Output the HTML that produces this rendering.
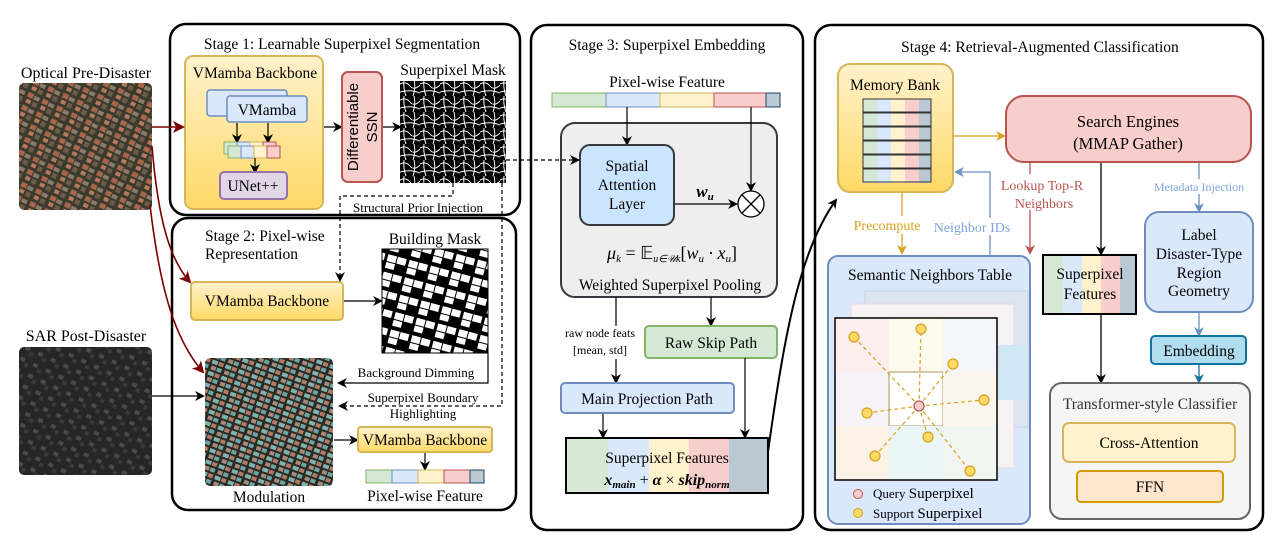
<!DOCTYPE html>
<html><head><meta charset="utf-8"><style>
html,body{margin:0;padding:0;background:#fff;}
svg{display:block;font-family:"Liberation Serif",serif;}
</style></head><body>
<svg width="1275" height="549" viewBox="0 0 1275 549" xmlns="http://www.w3.org/2000/svg">
<defs>
<marker id="ak" markerWidth="10" markerHeight="10" refX="8" refY="5" orient="auto" markerUnits="userSpaceOnUse"><path d="M0,0 L10,5 L0,10 L3,5 z" fill="#000"/></marker>
<marker id="ar" markerWidth="12" markerHeight="12" refX="10" refY="6" orient="auto" markerUnits="userSpaceOnUse"><path d="M0,0 L12,6 L0,12 L3,6 z" fill="#7a0000"/></marker>
<marker id="ay" markerWidth="10" markerHeight="10" refX="8" refY="5" orient="auto" markerUnits="userSpaceOnUse"><path d="M0,0 L10,5 L0,10 L3,5 z" fill="#d6a21f"/></marker>
<marker id="ab" markerWidth="10" markerHeight="10" refX="8" refY="5" orient="auto" markerUnits="userSpaceOnUse"><path d="M0,0 L10,5 L0,10 L3,5 z" fill="#6c8ebf"/></marker>
<marker id="ard" markerWidth="10" markerHeight="10" refX="8" refY="5" orient="auto" markerUnits="userSpaceOnUse"><path d="M0,0 L10,5 L0,10 L3,5 z" fill="#b85450"/></marker>
<marker id="at" markerWidth="10" markerHeight="10" refX="8" refY="5" orient="auto" markerUnits="userSpaceOnUse"><path d="M0,0 L10,5 L0,10 L3,5 z" fill="#10739e"/></marker>
<linearGradient id="gy" x1="0" y1="0" x2="0" y2="1"><stop offset="0" stop-color="#fff2cc"/><stop offset="1" stop-color="#ffd966"/></linearGradient>
<pattern id="opt" width="16" height="14" patternUnits="userSpaceOnUse" patternTransform="rotate(25)">
<rect width="16" height="14" fill="#3a3b2c"/><rect x="1" y="1" width="6" height="5" fill="#a8654a"/><rect x="8" y="2" width="6" height="4" fill="#8c7a6a"/><rect x="2" y="8" width="5" height="4" fill="#b87a5e"/><rect x="9" y="8" width="5" height="5" fill="#6e5a48"/></pattern>
<pattern id="sar" width="14" height="12" patternUnits="userSpaceOnUse" patternTransform="rotate(25)">
<rect width="14" height="12" fill="#262626"/><rect x="2" y="2" width="5" height="4" fill="#4a4a4a"/><rect x="8" y="6" width="4" height="4" fill="#3a3a3a"/></pattern>
<pattern id="mod" width="14" height="12" patternUnits="userSpaceOnUse" patternTransform="rotate(20)">
<rect width="14" height="12" fill="#2a2a22"/><rect x="1" y="1" width="6" height="4" fill="#7fb3b0"/><rect x="8" y="1" width="5" height="4" fill="#b07a66"/><rect x="2" y="7" width="5" height="4" fill="#a68a7a"/><rect x="8" y="7" width="5" height="4" fill="#6aa6a6"/></pattern>
<pattern id="bm" width="22" height="18" patternUnits="userSpaceOnUse" patternTransform="rotate(15)">
<rect width="22" height="18" fill="#000"/><rect x="1" y="1" width="9" height="7" fill="#fff"/><rect x="11" y="1" width="9" height="7" fill="#fff"/><rect x="1" y="9" width="9" height="6" fill="#fff"/></pattern>
<pattern id="spm" width="20" height="16" patternUnits="userSpaceOnUse">
<rect width="20" height="16" fill="#000"/><path d="M0,4 Q6,1 10,6 T20,5 M4,0 Q3,8 6,16 M14,0 Q16,8 13,16 M0,12 Q10,9 20,13" stroke="#fff" stroke-width="1" fill="none"/></pattern>
</defs>

<!-- inputs -->
<text x="86" y="78" font-size="16" text-anchor="middle">Optical Pre-Disaster</text>
<rect x="19" y="83" width="133" height="127" rx="5" fill="url(#opt)"/>
<text x="86" y="341" font-size="16" text-anchor="middle">SAR Post-Disaster</text>
<rect x="19" y="347" width="133" height="128" rx="5" fill="url(#sar)"/>

<!-- Stage boxes -->
<rect x="170" y="24" width="350" height="191" rx="16" fill="none" stroke="#000" stroke-width="2.5"/>
<rect x="172" y="218" width="344" height="292" rx="16" fill="none" stroke="#000" stroke-width="2.5"/>
<rect x="531" y="25" width="272" height="505" rx="16" fill="none" stroke="#000" stroke-width="2.5"/>
<rect x="815" y="25" width="448" height="505" rx="16" fill="none" stroke="#000" stroke-width="2.5"/>

<!-- Stage 1 -->
<text x="342" y="49" font-size="15.5" text-anchor="middle">Stage 1: Learnable Superpixel Segmentation</text>
<rect x="185" y="56" width="138" height="153" rx="8" fill="url(#gy)" stroke="#d6b656" stroke-width="2"/>
<text x="255" y="78" font-size="15.5" text-anchor="middle">VMamba Backbone</text>
<rect x="207" y="90" width="80" height="26" rx="3" fill="#dae8fc" stroke="#6c8ebf" stroke-width="1.5"/>
<rect x="227" y="96" width="80" height="26" rx="3" fill="#dae8fc" stroke="#6c8ebf" stroke-width="1.5"/>
<text x="267" y="115" font-size="15.5" text-anchor="middle">VMamba</text>
<line x1="237" y1="123" x2="237" y2="142" stroke="#000" stroke-width="1.2" marker-end="url(#ak)"/>
<line x1="268" y1="123" x2="268" y2="142" stroke="#000" stroke-width="1.2" marker-end="url(#ak)"/>
<g stroke-width="1">
<rect x="224" y="142" width="13" height="12" fill="#d5e8d4" stroke="#82b366"/><rect x="237" y="142" width="13" height="12" fill="#dae8fc" stroke="#6c8ebf"/><rect x="250" y="142" width="13" height="12" fill="#fff2cc" stroke="#d6b656"/><rect x="263" y="142" width="13" height="12" fill="#f8cecc" stroke="#b85450"/>
<rect x="228" y="146" width="13" height="12" fill="#d5e8d4" stroke="#82b366"/><rect x="241" y="146" width="13" height="12" fill="#dae8fc" stroke="#6c8ebf"/><rect x="254" y="146" width="13" height="12" fill="#fff2cc" stroke="#d6b656"/><rect x="267" y="146" width="13" height="12" fill="#f8cecc" stroke="#b85450"/>
</g>
<line x1="255" y1="158" x2="255" y2="172" stroke="#000" stroke-width="1.2" marker-end="url(#ak)"/>
<rect x="220" y="172" width="67" height="27" rx="4" fill="#e1d5e7" stroke="#9673a6" stroke-width="2"/>
<text x="253" y="191" font-size="15.5" text-anchor="middle">UNet++</text>
<line x1="324" y1="127" x2="341" y2="127" stroke="#000" stroke-width="1.3" marker-end="url(#ak)"/>
<rect x="342" y="72" width="40" height="110" rx="6" fill="#f8cecc" stroke="#b85450" stroke-width="2"/>
<text transform="translate(358,127) rotate(-90)" font-family="Liberation Sans,sans-serif" font-size="15" text-anchor="middle">Differentiable</text>
<text transform="translate(377,127) rotate(-90)" font-family="Liberation Sans,sans-serif" font-size="15" text-anchor="middle">SSN</text>
<line x1="383" y1="127" x2="400" y2="127" stroke="#000" stroke-width="1.3" marker-end="url(#ak)"/>
<text x="453" y="75" font-size="15.5" text-anchor="middle">Superpixel Mask</text>
<rect x="400" y="81" width="106" height="102" fill="url(#spm)"/>

<!-- Stage 2 -->
<text x="205" y="241" font-size="15.5">Stage 2: Pixel-wise</text>
<text x="205" y="259" font-size="15.5">Representation</text>
<rect x="191" y="282" width="152" height="38" rx="4" fill="url(#gy)" stroke="#d6b656" stroke-width="2"/>
<text x="267" y="306" font-size="15.5" text-anchor="middle">VMamba Backbone</text>
<line x1="344" y1="301" x2="381" y2="301" stroke="#000" stroke-width="1.2" marker-end="url(#ak)"/>
<text x="435" y="244" font-size="15.5" text-anchor="middle">Building Mask</text>
<rect x="382" y="249" width="106" height="104" fill="url(#bm)" stroke="#000"/>
<rect x="205" y="358" width="128" height="128" rx="5" fill="url(#mod)"/>
<text x="269" y="502" font-size="15.5" text-anchor="middle">Modulation</text>
<path d="M488,353 V383 H339" fill="none" stroke="#000" stroke-width="1.2" marker-end="url(#ak)"/>
<text x="416" y="377" font-size="13" text-anchor="middle">Background Dimming</text>
<path d="M453,183 V196 H340 V280" fill="none" stroke="#000" stroke-width="1.2" stroke-dasharray="4,3" marker-end="url(#ak)"/>
<text x="418" y="212" font-size="13" text-anchor="middle">Structural Prior Injection</text>
<path d="M502,183 V406 H340" fill="none" stroke="#000" stroke-width="1.2" stroke-dasharray="4,3" marker-end="url(#ak)"/>
<text x="423" y="402" font-size="13" text-anchor="middle">Superpixel Boundary</text>
<text x="423" y="418" font-size="13" text-anchor="middle">Highlighting</text>
<line x1="334" y1="440" x2="357" y2="440" stroke="#000" stroke-width="1.2" marker-end="url(#ak)"/>
<rect x="358" y="427" width="134" height="25" rx="3" fill="url(#gy)" stroke="#d6b656" stroke-width="2"/>
<text x="425" y="445" font-size="15.5" text-anchor="middle">VMamba Backbone</text>
<line x1="425" y1="453" x2="425" y2="469" stroke="#000" stroke-width="1.2" marker-end="url(#ak)"/>
<g stroke-width="1">
<rect x="366" y="470" width="26" height="13" fill="#d5e8d4" stroke="#82b366"/><rect x="392" y="470" width="26" height="13" fill="#dae8fc" stroke="#6c8ebf"/><rect x="418" y="470" width="26" height="13" fill="#fff2cc" stroke="#d6b656"/><rect x="444" y="470" width="26" height="13" fill="#f8cecc" stroke="#b85450"/><rect x="470" y="470" width="14" height="13" fill="#bac8d3" stroke="#23445d"/>
</g>
<text x="425" y="501" font-size="15.5" text-anchor="middle">Pixel-wise Feature</text>

<!-- red input arrows -->
<line x1="152" y1="127" x2="183" y2="127" stroke="#7a0000" stroke-width="1.6" marker-end="url(#ar)"/>
<path d="M152,146 C158,220 170,260 190,282" fill="none" stroke="#7a0000" stroke-width="1.6" marker-end="url(#ar)"/>
<path d="M150,205 C160,290 175,340 203,372" fill="none" stroke="#7a0000" stroke-width="1.6" marker-end="url(#ar)"/>
<line x1="152" y1="396" x2="203" y2="396" stroke="#000" stroke-width="1.3" marker-end="url(#ak)"/>

<!-- Stage 3 -->
<text x="667" y="50" font-size="15.5" text-anchor="middle">Stage 3: Superpixel Embedding</text>
<text x="667" y="87" font-size="15.5" text-anchor="middle">Pixel-wise Feature</text>
<g stroke-width="1">
<rect x="552" y="93" width="54" height="14" fill="#d5e8d4" stroke="#82b366"/><rect x="606" y="93" width="54" height="14" fill="#dae8fc" stroke="#6c8ebf"/><rect x="660" y="93" width="54" height="14" fill="#fff2cc" stroke="#d6b656"/><rect x="714" y="93" width="52" height="14" fill="#f8cecc" stroke="#b85450"/><rect x="766" y="93" width="14" height="14" fill="#bac8d3" stroke="#23445d"/>
</g>
<rect x="561" y="123" width="216" height="174" rx="14" fill="#eeeeee" stroke="#36393d" stroke-width="2"/>
<line x1="627" y1="107" x2="627" y2="144" stroke="#000" stroke-width="1.2" marker-end="url(#ak)"/>
<line x1="751" y1="107" x2="751" y2="190" stroke="#000" stroke-width="1.2" marker-end="url(#ak)"/>
<rect x="580" y="145" width="94" height="80" rx="10" fill="#cce5ff" stroke="#36393d" stroke-width="2"/>
<text x="627" y="171" font-size="15.5" text-anchor="middle">Spatial</text>
<text x="627" y="190" font-size="15.5" text-anchor="middle">Attention</text>
<text x="627" y="209" font-size="15.5" text-anchor="middle">Layer</text>
<line x1="675" y1="204" x2="736" y2="204" stroke="#000" stroke-width="1.2" marker-end="url(#ak)"/>
<text x="705" y="197" font-size="17" font-style="italic" font-weight="bold" text-anchor="middle">w<tspan font-size="11" dy="3">u</tspan></text>
<circle cx="751" cy="204" r="13" fill="#fff" stroke="#000" stroke-width="1.3"/>
<path d="M742,195 L760,213 M760,195 L742,213" stroke="#000" stroke-width="1.3"/>
<text x="672" y="259" font-size="18" font-style="italic" text-anchor="middle">μ<tspan font-size="11" dy="3">k</tspan><tspan dy="-3" font-style="normal"> = 𝔼</tspan><tspan font-size="10" dy="3">u∈𝒰k</tspan><tspan dy="-3" font-style="normal">[</tspan>w<tspan font-size="11" dy="3">u</tspan><tspan dy="-3"> · x</tspan><tspan font-size="11" dy="3">u</tspan><tspan dy="-3" font-style="normal">]</tspan></text>
<text x="670" y="290" font-size="15.5" text-anchor="middle">Weighted Superpixel Pooling</text>
<line x1="616" y1="297" x2="616" y2="326" stroke="#000" stroke-width="1.2"/>
<text x="600" y="337" font-size="12" text-anchor="middle">raw node feats</text>
<text x="600" y="354" font-size="12" text-anchor="middle">[mean, std]</text>
<line x1="616" y1="359" x2="616" y2="382" stroke="#000" stroke-width="1.2" marker-end="url(#ak)"/>
<line x1="711" y1="297" x2="711" y2="325" stroke="#000" stroke-width="1.2" marker-end="url(#ak)"/>
<rect x="645" y="326" width="132" height="32" rx="4" fill="#d5e8d4" stroke="#82b366" stroke-width="2"/>
<text x="711" y="348" font-size="15.5" text-anchor="middle">Raw Skip Path</text>
<rect x="561" y="383" width="173" height="30" rx="4" fill="#dae8fc" stroke="#6c8ebf" stroke-width="2"/>
<text x="647" y="404" font-size="15.5" text-anchor="middle">Main Projection Path</text>
<line x1="603" y1="414" x2="603" y2="437" stroke="#000" stroke-width="1.2" marker-end="url(#ak)"/>
<line x1="745" y1="358" x2="745" y2="437" stroke="#000" stroke-width="1.2" marker-end="url(#ak)"/>
<rect x="567" y="439" width="41" height="53" fill="#d5e8d4"/><rect x="608" y="439" width="41" height="53" fill="#dae8fc"/><rect x="649" y="439" width="40" height="53" fill="#fff2cc"/><rect x="689" y="439" width="40" height="53" fill="#f8cecc"/><rect x="729" y="439" width="39" height="53" fill="#bac8d3"/>
<rect x="566" y="438" width="202" height="55" fill="none" stroke="#000" stroke-width="2"/>
<text x="667" y="463" font-size="15.5" text-anchor="middle">Superpixel Features</text>
<text x="667" y="485" font-size="16" font-style="italic" font-weight="bold" text-anchor="middle">x<tspan font-size="11" dy="3">main</tspan><tspan dy="-3" font-weight="normal" font-style="normal"> + </tspan>α<tspan font-weight="normal" font-style="normal"> × </tspan>skip<tspan font-size="11" dy="3">norm</tspan></text>
<path d="M768,452 C785,330 800,250 836,200" fill="none" stroke="#000" stroke-width="2" marker-end="url(#ak)"/>
<path d="M506,160 H578" fill="none" stroke="#000" stroke-width="1.3" stroke-dasharray="4,3" marker-end="url(#ak)"/>

<!-- Stage 4 -->
<text x="1040" y="52" font-size="15.5" text-anchor="middle">Stage 4: Retrieval-Augmented Classification</text>
<rect x="838" y="64" width="115" height="128" rx="12" fill="url(#gy)" stroke="#d6b656" stroke-width="2"/>
<text x="895" y="90" font-size="15.5" text-anchor="middle">Memory Bank</text>
<g>
<rect x="863" y="99" width="14" height="84" fill="#d5e8d4"/><rect x="877" y="99" width="14" height="84" fill="#dae8fc"/><rect x="891" y="99" width="14" height="84" fill="#fff2cc"/><rect x="905" y="99" width="14" height="84" fill="#f8cecc"/><rect x="919" y="99" width="12" height="84" fill="#bac8d3"/>
<g fill="none" stroke="#333" stroke-width="1"><rect x="863" y="99" width="68" height="13"/><rect x="863" y="113" width="68" height="13"/><rect x="863" y="127" width="68" height="13"/><rect x="863" y="141" width="68" height="13"/><rect x="863" y="155" width="68" height="13"/><rect x="863" y="169" width="68" height="13"/></g>
</g>
<line x1="954" y1="136" x2="1004" y2="136" stroke="#d6a21f" stroke-width="1.3" marker-end="url(#ay)"/>
<rect x="1006" y="96" width="245" height="66" rx="18" fill="#f8cecc" stroke="#b85450" stroke-width="2"/>
<text x="1128" y="127" font-size="16.5" text-anchor="middle">Search Engines</text>
<text x="1128" y="149" font-size="16.5" text-anchor="middle">(MMAP Gather)</text>
<line x1="902" y1="193" x2="902" y2="253" stroke="#d6a21f" stroke-width="1.3" marker-end="url(#ay)"/>
<rect x="846" y="216" width="80" height="18" fill="#fff"/>
<text x="887" y="230" font-size="14" fill="#d6a21f" text-anchor="middle">Precompute</text>
<path d="M990,255 V172 H956" fill="none" stroke="#6c8ebf" stroke-width="1.3" marker-end="url(#ab)"/>
<rect x="930" y="218" width="82" height="17" fill="#fff"/>
<text x="972" y="232" font-size="14" fill="#7ea6e0" text-anchor="middle">Neighbor IDs</text>
<line x1="1030" y1="163" x2="1030" y2="253" stroke="#b85450" stroke-width="1.3" marker-end="url(#ard)"/>
<rect x="998" y="174" width="88" height="36" fill="#fff"/>
<text x="1042" y="190" font-size="14" fill="#b85450" text-anchor="middle">Lookup Top-R</text>
<text x="1044" y="208" font-size="14" fill="#b85450" text-anchor="middle">Neighbors</text>
<line x1="1101" y1="163" x2="1101" y2="254" stroke="#000" stroke-width="1.3" marker-end="url(#ak)"/>
<line x1="1199" y1="163" x2="1199" y2="211" stroke="#6c8ebf" stroke-width="1.3" marker-end="url(#ab)"/>
<rect x="1154" y="179" width="98" height="15" fill="#fff"/>
<text x="1199" y="191" font-size="12" fill="#7ea6e0" text-anchor="middle">Metadata Injection</text>

<rect x="828" y="256" width="202" height="268" rx="10" fill="#dae8fc" stroke="#6c8ebf" stroke-width="2"/>
<text x="930" y="280" font-size="15.5" text-anchor="middle">Semantic Neighbors Table</text>
<rect x="865" y="291" width="163" height="136" fill="#dde4f2" stroke="#c8d0e8"/>
<rect x="851" y="304" width="163" height="164" fill="#f6f2f4" stroke="#e8d8dc"/>
<rect x="998" y="345" width="30" height="55" fill="#cfe6f4"/>
<rect x="835" y="318" width="162" height="162" fill="#fff"/>
<rect x="835" y="318" width="54" height="54" fill="#fdeeee"/><rect x="889" y="318" width="54" height="54" fill="#fffaee"/><rect x="943" y="318" width="54" height="54" fill="#f4f6fc"/>
<rect x="835" y="372" width="54" height="54" fill="#f6f2f8"/><rect x="889" y="372" width="54" height="54" fill="#fff" stroke="#a89a5a"/><rect x="943" y="372" width="54" height="54" fill="#fdf6ee"/>
<rect x="835" y="426" width="54" height="54" fill="#fdf2e6"/><rect x="889" y="426" width="54" height="54" fill="#eaf6f6"/><rect x="943" y="426" width="54" height="54" fill="#f2f6f2"/>
<rect x="835" y="318" width="162" height="162" fill="none" stroke="#000" stroke-width="1.5"/>
<g stroke="#d6a21f" stroke-width="1.2" stroke-dasharray="4,3" fill="none">
<line x1="919" y1="406" x2="854" y2="337"/><line x1="919" y1="406" x2="921" y2="329"/><line x1="919" y1="406" x2="953" y2="364"/><line x1="919" y1="406" x2="984" y2="400"/><line x1="919" y1="406" x2="867" y2="413"/><line x1="919" y1="406" x2="928" y2="437"/><line x1="919" y1="406" x2="875" y2="456"/><line x1="919" y1="406" x2="970" y2="471"/>
</g>
<g fill="#ffd966" stroke="#d6a21f" stroke-width="1.2">
<circle cx="854" cy="337" r="5"/><circle cx="921" cy="329" r="5"/><circle cx="953" cy="364" r="5"/><circle cx="984" cy="400" r="5"/><circle cx="867" cy="413" r="5"/><circle cx="928" cy="437" r="5"/><circle cx="875" cy="456" r="5"/><circle cx="970" cy="471" r="5"/>
</g>
<circle cx="919" cy="406" r="5" fill="#f8cecc" stroke="#b85450" stroke-width="1.3"/>
<circle cx="858" cy="494" r="4.5" fill="#f8cecc" stroke="#b85450"/>
<text x="873" y="498" font-size="13">Query <tspan font-size="15">Superpixel</tspan></text>
<circle cx="858" cy="513" r="4.5" fill="#ffd966" stroke="#d6a21f"/>
<text x="873" y="518" font-size="13">Support <tspan font-size="15">Superpixel</tspan></text>

<rect x="1044" y="256" width="19" height="58" fill="#d5e8d4"/><rect x="1063" y="256" width="19" height="58" fill="#dae8fc"/><rect x="1082" y="256" width="19" height="58" fill="#fff2cc"/><rect x="1101" y="256" width="19" height="58" fill="#f8cecc"/><rect x="1120" y="256" width="16" height="58" fill="#bac8d3"/>
<rect x="1043" y="255" width="93" height="59" fill="none" stroke="#000" stroke-width="2"/>
<text x="1090" y="279" font-size="15.5" text-anchor="middle">Superpixel</text>
<text x="1090" y="299" font-size="15.5" text-anchor="middle">Features</text>
<line x1="1101" y1="315" x2="1101" y2="382" stroke="#000" stroke-width="1.3" marker-end="url(#ak)"/>

<rect x="1145" y="212" width="108" height="100" rx="14" fill="#dae8fc" stroke="#6c8ebf" stroke-width="2"/>
<text x="1199" y="240" font-size="15.5" text-anchor="middle">Label</text>
<text x="1199" y="259" font-size="15.5" text-anchor="middle">Disaster-Type</text>
<text x="1199" y="278" font-size="15.5" text-anchor="middle">Region</text>
<text x="1199" y="296" font-size="15.5" text-anchor="middle">Geometry</text>
<line x1="1199" y1="313" x2="1199" y2="335" stroke="#6c8ebf" stroke-width="1.3" marker-end="url(#ab)"/>
<rect x="1151" y="336" width="95" height="28" rx="4" fill="#b1ddf0" stroke="#10739e" stroke-width="2"/>
<text x="1199" y="356" font-size="15.5" text-anchor="middle">Embedding</text>
<line x1="1199" y1="365" x2="1199" y2="382" stroke="#10739e" stroke-width="1.3" marker-end="url(#at)"/>
<rect x="1050" y="383" width="200" height="136" rx="12" fill="#f5f5f5" stroke="#666" stroke-width="2"/>
<text x="1150" y="409" font-size="15.5" fill="#333" text-anchor="middle">Transformer-style Classifier</text>
<rect x="1063" y="423" width="172" height="39" rx="6" fill="#fff2cc" stroke="#d6b656" stroke-width="2"/>
<text x="1149" y="448" font-size="15.5" text-anchor="middle">Cross-Attention</text>
<rect x="1077" y="471" width="146" height="31" rx="4" fill="#ffe6cc" stroke="#d79b00" stroke-width="2"/>
<text x="1150" y="492" font-size="15.5" text-anchor="middle">FFN</text>
</svg>
</body></html>
